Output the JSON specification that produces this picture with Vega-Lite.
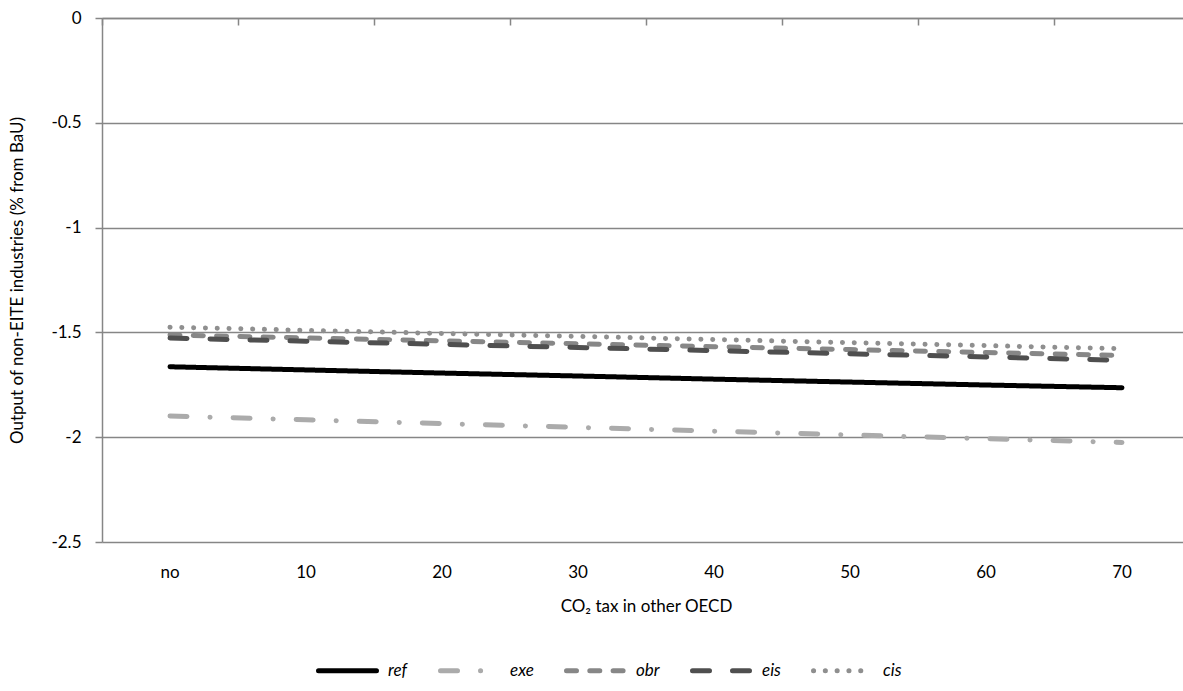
{
  "$schema": "https://vega.github.io/schema/vega-lite/v6.json",
  "width": 1081,
  "height": 524,
  "autosize": {"type": "none"},
  "padding": {"left": 102, "top": 18, "right": 0, "bottom": 149},
  "background": "white",
  "config": {
    "font": "Lato",
    "view": {"stroke": null},
    "axis": {"labelColor": "#000000", "titleColor": "#000000", "labelFontSize": 17, "titleFontSize": 17, "titleFontWeight": "normal"},
    "legend": {
      "orient": "none",
      "legendX": 214,
      "legendY": 621,
      "direction": "horizontal",
      "title": null,
      "symbolType": "stroke",
      "symbolSize": 3364,
      "symbolStrokeWidth": 5,
      "labelFontSize": 17,
      "labelFontStyle": "italic",
      "labelColor": "#000000",
      "labelOffset": 9,
      "columnPadding": 22
    }
  },
  "data": {
    "values": [
      {"tax": "no", "series": "ref", "output": -1.664},
      {"tax": "10", "series": "ref", "output": -1.679},
      {"tax": "20", "series": "ref", "output": -1.694},
      {"tax": "30", "series": "ref", "output": -1.708},
      {"tax": "40", "series": "ref", "output": -1.723},
      {"tax": "50", "series": "ref", "output": -1.737},
      {"tax": "60", "series": "ref", "output": -1.751},
      {"tax": "70", "series": "ref", "output": -1.764},
      {"tax": "no", "series": "exe", "output": -1.899},
      {"tax": "10", "series": "exe", "output": -1.917},
      {"tax": "20", "series": "exe", "output": -1.935},
      {"tax": "30", "series": "exe", "output": -1.953},
      {"tax": "40", "series": "exe", "output": -1.971},
      {"tax": "50", "series": "exe", "output": -1.989},
      {"tax": "60", "series": "exe", "output": -2.007},
      {"tax": "70", "series": "exe", "output": -2.025},
      {"tax": "no", "series": "obr", "output": -1.512},
      {"tax": "10", "series": "obr", "output": -1.526},
      {"tax": "20", "series": "obr", "output": -1.540},
      {"tax": "30", "series": "obr", "output": -1.554},
      {"tax": "40", "series": "obr", "output": -1.568},
      {"tax": "50", "series": "obr", "output": -1.582},
      {"tax": "60", "series": "obr", "output": -1.596},
      {"tax": "70", "series": "obr", "output": -1.610},
      {"tax": "no", "series": "eis", "output": -1.527},
      {"tax": "10", "series": "eis", "output": -1.542},
      {"tax": "20", "series": "eis", "output": -1.557},
      {"tax": "30", "series": "eis", "output": -1.572},
      {"tax": "40", "series": "eis", "output": -1.587},
      {"tax": "50", "series": "eis", "output": -1.602},
      {"tax": "60", "series": "eis", "output": -1.617},
      {"tax": "70", "series": "eis", "output": -1.633},
      {"tax": "no", "series": "cis", "output": -1.475},
      {"tax": "10", "series": "cis", "output": -1.490},
      {"tax": "20", "series": "cis", "output": -1.505},
      {"tax": "30", "series": "cis", "output": -1.519},
      {"tax": "40", "series": "cis", "output": -1.534},
      {"tax": "50", "series": "cis", "output": -1.549},
      {"tax": "60", "series": "cis", "output": -1.563},
      {"tax": "70", "series": "cis", "output": -1.578}
    ]
  },
  "encoding": {
    "y": {
      "field": "output",
      "type": "quantitative",
      "scale": {"domain": [-2.5, 0], "nice": false, "zero": false}
    },
    "color": {
      "field": "series",
      "type": "nominal",
      "scale": {
        "domain": ["ref", "exe", "obr", "eis", "cis"],
        "range": ["#000000", "#ababab", "#878787", "#4f4f4f", "#8f8f8f"]
      },
      "legend": {
        "encode": {"symbols": {"update": {"strokeCap": {"value": "round"}}}}
      }
    },
    "strokeDash": {
      "field": "series",
      "type": "nominal",
      "scale": {
        "domain": ["ref", "exe", "obr", "eis", "cis"],
        "range": [[1, 0], [17, 23, 0.1, 23], [10, 13.3], [17, 23], [0.1, 11.7]]
      },
      "legend": {
        "encode": {"symbols": {"update": {"strokeCap": {"value": "round"}}}}
      }
    }
  },
  "layer": [
    {
      "mark": {"type": "line", "strokeWidth": 5, "strokeCap": "round"},
      "encoding": {
        "x": {
          "field": "tax",
          "type": "ordinal",
          "sort": ["no", "10", "20", "30", "40", "50", "60", "70"],
          "scale": {"type": "band", "paddingInner": 0, "paddingOuter": 0, "range": [0, 1088]},
          "axis": {
            "orient": "bottom",
            "domain": false,
            "ticks": false,
            "grid": false,
            "labelAngle": 0,
            "labelPadding": 22,
            "title": "CO₂ tax in other OECD",
            "titlePadding": 18
          }
        },
        "y": {
          "field": "output",
          "type": "quantitative",
          "axis": {
            "values": [0, -0.5, -1, -1.5, -2, -2.5],
            "labelExpr": "'' + datum.value",
            "grid": true,
            "gridColor": "#868686",
            "gridWidth": 1.5,
            "domain": true,
            "domainColor": "#868686",
            "domainWidth": 1.5,
            "ticks": true,
            "tickSize": 7,
            "tickColor": "#868686",
            "tickWidth": 1.5,
            "labelPadding": 14,
            "title": "Output of non-EITE industries (% from BaU)",
            "titlePadding": 24
          }
        }
      }
    },
    {
      "mark": {"type": "line", "opacity": 0},
      "encoding": {
        "x": {
          "field": "tax",
          "type": "ordinal",
          "sort": ["no", "10", "20", "30", "40", "50", "60", "70"],
          "axis": {
            "orient": "top",
            "bandPosition": 0,
            "domain": true,
            "domainColor": "#868686",
            "domainWidth": 1.5,
            "ticks": true,
            "tickSize": -7,
            "tickColor": "#868686",
            "tickWidth": 1.5,
            "labels": false,
            "grid": false,
            "title": null
          }
        }
      }
    }
  ],
  "resolve": {"axis": {"x": "independent"}}
}
